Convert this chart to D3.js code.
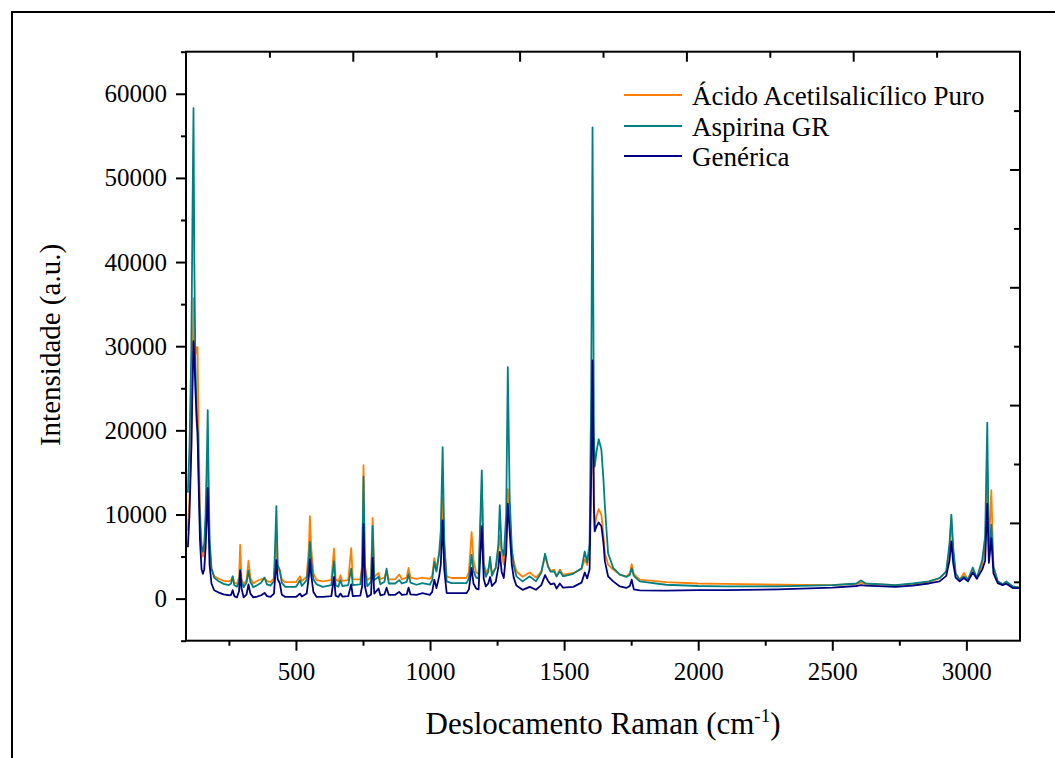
<!DOCTYPE html>
<html>
<head>
<meta charset="utf-8">
<script src="https://cdn.jsdelivr.net/npm/d3@7"></script>
<style>
  html, body { margin: 0; padding: 0; background: #fff; }
  svg { display: block; }
</style>
</head>
<body>
<svg id="chart" width="1055" height="758"></svg>
<script>
// ---------------- DATA ----------------
const seriesNames = ["Ácido Acetilsalicílico Puro", "Aspirina GR", "Genérica"];
const seriesColors = ["#FF8000", "#008080", "#000080"];

const ramanShift = [
  97,103,110,114,118,121,125,130,133,137,142,148,153,158,163,168,171,174,178,185,
  195,210,230,250,258,264,270,280,288,292,297,305,316,323,330,341,355,370,383,392,
  405,418,427,432,440,447,460,500,508,515,522,540,548,552,557,565,577,600,632,642,
  648,658,666,673,695,706,712,740,747,752,757,766,780,786,792,808,815,830,838,846,
  870,885,895,913,920,927,950,972,999,1008,1016,1024,1034,1040,1047,1053,1062,1080,1136,1145,
  1155,1162,1172,1181,1193,1200,1208,1217,1224,1231,1245,1255,1260,1267,1275,1284,1290,1297,1305,1312,
  1322,1345,1372,1395,1415,1429,1440,1450,1463,1472,1484,1496,1534,1565,1577,1586,1595,1601,1606,1611,
  1614,1621,1629,1639,1647,1652,1664,1683,1708,1732,1745,1752,1760,1782,1880,2000,2100,2300,2500,2590,
  2607,2625,2736,2800,2860,2900,2925,2937,2944,2951,2960,2975,2991,3006,3024,3039,3059,3070,3078,3084,
  3093,3101,3117,3135,3149,3173,3198
];

const acidoPuro = [
  8100,12000,18000,26000,35700,31000,29000,29900,29900,20000,11000,6000,5000,5600,8000,13000,16600,12000,6000,3500,
  2700,2400,2100,2050,2200,2650,1900,1750,2500,6400,2300,1700,2200,4500,2500,1800,2100,2300,2400,2100,
  1950,2400,7000,3500,3200,2300,1950,1950,2300,2650,2100,2600,6000,9800,6000,3000,2200,2050,2200,5950,
  2300,2050,2780,2100,2200,6000,2300,2300,4000,15850,4000,2200,2500,9600,2600,3050,2300,2500,3300,2300,
  2300,2860,2300,2500,3650,2500,2350,2500,2350,2700,4800,3500,5400,6500,12000,6000,2650,2450,2450,3200,
  7900,4600,3100,3000,13000,4500,3050,3500,4050,3100,3600,5500,7500,5500,4050,7000,13000,9000,5500,4500,
  3250,2600,3100,2500,3200,5000,3900,3300,3450,2650,3450,2850,3050,3500,4650,4000,6000,15000,27000,12000,
  8600,9800,10650,9950,7500,5400,4050,3450,2850,2650,3000,4100,2900,2250,1950,1800,1750,1650,1600,1750,
  1900,1750,1600,1700,2000,2400,3200,6000,9500,5500,3000,2250,3050,2250,3400,2400,4000,6000,15000,6000,
  12900,3800,2050,1700,1800,1450,1300
];

const aspirinaGR = [
  12600,18000,30000,45000,58300,40000,28000,22000,20000,15000,9000,6200,5600,6500,10000,17000,22400,15000,7000,3600,
  2500,2100,1750,1600,1800,2650,1600,1400,2000,3450,2000,1350,1900,3300,2000,1350,1600,1900,2500,1700,
  1550,2100,11000,4000,3370,1900,1400,1400,1800,2200,1500,2200,4500,6750,4500,2300,1700,1400,1600,4450,
  1600,1400,2200,1500,1600,3570,1600,1700,3500,14500,3500,1450,2000,8650,2200,2600,1700,2000,3570,1800,
  1800,2200,1800,2000,2900,1900,1650,1850,1650,2200,4350,3200,5400,8000,18000,7000,2050,1850,1850,2400,
  5200,3300,2500,2400,15250,4000,2600,3200,4950,2700,3700,6500,11100,6000,5100,10000,27500,12000,6000,4000,
  2650,2050,2650,2050,3100,5350,3800,3200,3250,2650,3250,2650,2950,3600,5600,4300,6500,25000,56000,20000,
  15700,17500,18950,17700,14000,11000,5400,3650,2850,2580,2800,3600,2700,2050,1650,1500,1450,1450,1600,1800,
  2150,1800,1600,1800,2050,2450,3250,6500,9980,6000,3000,2250,2650,2250,3700,2450,4600,7400,20900,4600,
  8800,3800,2050,1700,2050,1450,1300
];

const generica = [
  6100,10000,18000,25000,30600,29000,25000,21000,19800,14000,7000,3500,2950,3500,6000,10000,13150,9000,4000,1800,
  1000,750,500,400,450,1000,300,150,900,3300,1200,150,500,1700,600,150,250,400,680,300,
  200,600,4560,2300,1800,500,200,200,400,600,250,600,2600,4680,2800,800,200,200,300,2580,
  350,200,600,250,300,1700,300,350,1500,8850,1500,200,500,4850,600,1200,400,500,1300,450,
  450,800,450,500,1300,500,450,650,450,800,2250,1250,2650,4000,9300,3500,670,650,650,1100,
  3650,1800,1200,1100,8600,2400,1450,1800,2570,1500,2000,3800,5550,3200,2450,5500,11300,8000,4000,2500,
  1550,1050,1400,1050,1600,2800,2100,1700,1800,1200,1800,1300,1400,1900,3100,2400,3500,15000,28300,11000,
  8000,8600,9050,8600,6500,4450,2650,2050,1450,1270,1500,2250,1100,990,950,1000,1000,1100,1300,1500,
  1600,1550,1400,1550,1800,2050,2700,4500,6800,4200,2500,2050,2450,2050,3100,2350,3450,4500,11300,4250,
  7200,3000,1850,1600,1780,1250,1250
];

const seriesValues = [acidoPuro, aspirinaGR, generica];

const xMajorTicks = [500, 1000, 1500, 2000, 2500, 3000];
const xMinorTicks = [250, 750, 1250, 1750, 2250, 2750];
const yMajorTicks = [0, 10000, 20000, 30000, 40000, 50000, 60000];
const yMinorTicks = [-5000, 5000, 15000, 25000, 35000, 45000, 55000, 65000];

const xTitle = "Deslocamento Raman (cm";
const xTitleSup = "-1";
const yTitle = "Intensidade (a.u.)";

// ---------------- LAYOUT ----------------
const FONT = "Liberation Serif, Times New Roman, serif";
const svg = d3.select("#chart");
const L = 186, R = 1020, T = 51.7, B = 640.7;

const x = d3.scaleLinear().domain([90, 3200]).range([L, R]);
const y = d3.scaleLinear().domain([-5000, 65000]).range([B, T]);

// outer frame
svg.append("rect").attr("x", 12).attr("y", 12).attr("width", 1100).attr("height", 800)
  .attr("fill", "none").attr("stroke", "#000").attr("stroke-width", 2);

svg.append("clipPath").attr("id", "plotclip").append("rect")
  .attr("x", L).attr("y", T).attr("width", R - L).attr("height", B - T);

// lines
const line = d3.line()
  .x((d, i) => x(ramanShift[i]))
  .y(d => y(d))
  .curve(d3.curveLinear);

const g = svg.append("g").attr("clip-path", "url(#plotclip)");
seriesValues.forEach((vals, k) => {
  g.append("path").datum(vals)
    .attr("d", line)
    .attr("fill", "none")
    .attr("stroke", seriesColors[k])
    .attr("stroke-width", 1.8)
    .attr("stroke-linejoin", "round");
});

// axes: bottom and left with d3 axis generators
const fmt = d3.format("d");
svg.append("g").attr("transform", `translate(0,${B})`)
  .call(d3.axisBottom(x).tickValues(xMajorTicks).tickFormat(fmt).tickSize(10).tickPadding(12));
svg.append("g").attr("transform", `translate(0,${B})`)
  .call(d3.axisBottom(x).tickValues(xMinorTicks).tickFormat("").tickSize(5));
svg.append("g").attr("transform", `translate(${L},0)`)
  .call(d3.axisLeft(y).tickValues(yMajorTicks).tickFormat(fmt).tickSize(10).tickPadding(9));
svg.append("g").attr("transform", `translate(${L},0)`)
  .call(d3.axisLeft(y).tickValues(yMinorTicks).tickFormat("").tickSize(5));

// top and right axes: 5 equal divisions with minor halves, ticks inward
const xTop = d3.scaleLinear().domain([0, 10]).range([L, R]);
const yRight = d3.scaleLinear().domain([0, 10]).range([B, T]);
const innerTicks = d3.range(1, 10);
svg.append("g").attr("transform", `translate(0,${T})`)
  .call(d3.axisTop(xTop).tickValues(innerTicks.filter(v => v % 2 === 0)).tickFormat("").tickSize(-10));
svg.append("g").attr("transform", `translate(0,${T})`)
  .call(d3.axisTop(xTop).tickValues(innerTicks.filter(v => v % 2 === 1)).tickFormat("").tickSize(-6));
svg.append("g").attr("transform", `translate(${R},0)`)
  .call(d3.axisRight(yRight).tickValues(innerTicks.filter(v => v % 2 === 0)).tickFormat("").tickSize(-10));
svg.append("g").attr("transform", `translate(${R},0)`)
  .call(d3.axisRight(yRight).tickValues(innerTicks.filter(v => v % 2 === 1)).tickFormat("").tickSize(-6));

svg.selectAll(".domain").remove();
svg.selectAll("g").attr("font-family", FONT);
svg.selectAll(".tick line").attr("stroke", "#000").attr("stroke-width", 2);
svg.selectAll(".tick text")
  .attr("font-family", FONT)
  .attr("font-size", 25).attr("fill", "#000");

// plot frame
svg.append("rect").attr("x", L).attr("y", T).attr("width", R - L).attr("height", B - T)
  .attr("fill", "none").attr("stroke", "#000").attr("stroke-width", 2);

// axis titles
const xt = svg.append("text").attr("x", 603).attr("y", 734).attr("text-anchor", "middle")
  .attr("font-family", FONT).attr("font-size", 31).attr("fill", "#000");
xt.append("tspan").text(xTitle);
xt.append("tspan").text(xTitleSup).attr("dy", -12).attr("font-size", 19);
xt.append("tspan").text(")").attr("dy", 12);

svg.append("text").attr("transform", "translate(60,345) rotate(-90)")
  .attr("text-anchor", "middle").attr("font-family", FONT).attr("font-size", 29)
  .attr("fill", "#000").text(yTitle);

// legend
const legendTextY = [105, 136, 166];
seriesNames.forEach((name, k) => {
  svg.append("line").attr("x1", 624).attr("x2", 682)
    .attr("y1", legendTextY[k] - 10).attr("y2", legendTextY[k] - 10)
    .attr("stroke", seriesColors[k]).attr("stroke-width", 1.8);
  svg.append("text").attr("x", 692).attr("y", legendTextY[k])
    .attr("font-family", FONT).attr("font-size", 27).attr("fill", "#000").text(name);
});
</script>
</body>
</html>
